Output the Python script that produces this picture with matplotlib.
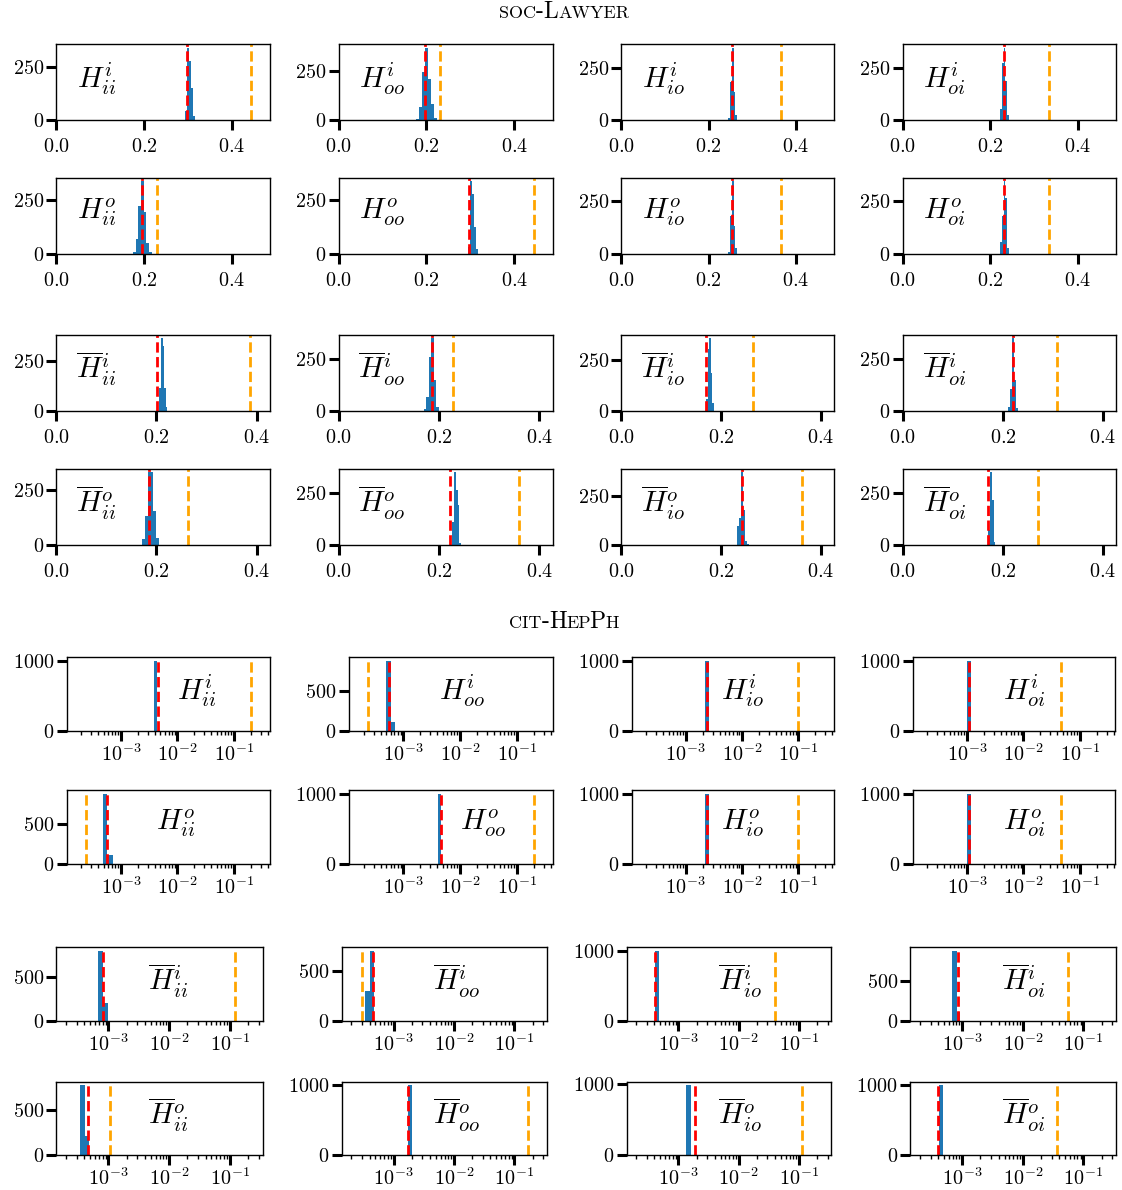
import numpy as np
import matplotlib
matplotlib.use("Agg")
import matplotlib.pyplot as plt
from matplotlib.ticker import MaxNLocator
from matplotlib.offsetbox import TextArea, HPacker, AnchoredOffsetbox

plt.rcParams['font.family'] = 'cmr10'
plt.rcParams['mathtext.fontset'] = 'cm'
plt.rcParams['axes.formatter.use_mathtext'] = True
plt.rcParams['axes.linewidth'] = 1.0
plt.rcParams['font.size'] = 14.5

# === DATA ===
plain_labels = [r"$H^{i}_{ii}$", r"$H^{i}_{oo}$", r"$H^{i}_{io}$", r"$H^{i}_{oi}$",
                r"$H^{o}_{ii}$", r"$H^{o}_{oo}$", r"$H^{o}_{io}$", r"$H^{o}_{oi}$"]
bar_labels = [r"$\overline{H}^{i}_{ii}$", r"$\overline{H}^{i}_{oo}$",
              r"$\overline{H}^{i}_{io}$", r"$\overline{H}^{i}_{oi}$",
              r"$\overline{H}^{o}_{ii}$", r"$\overline{H}^{o}_{oo}$",
              r"$\overline{H}^{o}_{io}$", r"$\overline{H}^{o}_{oi}$"]

# soc-Lawyer: histogram range (lo, hi) and counts per panel, rows 1-4
lawyer_lo = [0.2945, 0.1755, 0.2448, 0.2216,
             0.1748, 0.2955, 0.2448, 0.2216,
             0.2058, 0.1692, 0.1703, 0.2106,
             0.1714, 0.2264, 0.2321, 0.1705]
lawyer_hi = [0.3170, 0.2229, 0.2653, 0.2430,
             0.2181, 0.3183, 0.2653, 0.2430,
             0.2218, 0.1992, 0.1853, 0.2291,
             0.2050, 0.2442, 0.2566, 0.1848]
lawyer_counts = [[45, 340, 280, 150, 20], [8, 70, 245, 370, 212, 82, 10],
                 [9, 181, 345, 134, 25], [56, 271, 345, 189, 25],
                 [9, 68, 222, 335, 195, 48, 9], [33, 338, 281, 126, 20],
                 [9, 180, 345, 134, 25], [56, 180, 345, 265, 25],
                 [113, 362, 322, 113, 18], [11, 66, 260, 348, 150, 18],
                 [60, 299, 353, 185, 38], [18, 105, 350, 150, 13],
                 [26, 132, 330, 330, 156, 33], [110, 350, 265, 195, 10],
                 [96, 140, 371, 178, 21, 7], [70, 347, 213, 15]]
lawyer_red = [0.2988, 0.1959, 0.2538, 0.2315,
              0.1959, 0.2978, 0.2538, 0.2315,
              0.2014, 0.1870, 0.1705, 0.2199,
              0.1858, 0.2228, 0.2415, 0.1711]
lawyer_orange = [0.4434, 0.2309, 0.3646, 0.3333,
                 0.2302, 0.4441, 0.3646, 0.3333,
                 0.3872, 0.2278, 0.2630, 0.3079,
                 0.2636, 0.3586, 0.3619, 0.2708]

# cit-HepPh: bin edges and counts per panel, rows 1-4
hepph_edges = [[3.93e-3, 4.43e-3], [5.03e-4, 6.0e-4, 7.15e-4],
               [2.2e-3, 2.58e-3], [1.01e-3, 1.17e-3],
               [4.82e-4, 5.74e-4, 7.26e-4], [4.06e-3, 4.56e-3],
               [2.2e-3, 2.58e-3], [1.01e-3, 1.17e-3],
               [6.83e-4, 8.15e-4, 9.86e-4], [3.41e-4, 4.02e-4, 4.73e-4],
               [4.02e-4, 4.8e-4], [6.74e-4, 8.04e-4, 9.22e-4],
               [2.82e-4, 3.46e-4, 4.13e-4, 4.73e-4], [1.73e-3, 2.03e-3],
               [1.35e-3, 1.63e-3], [4.07e-4, 4.73e-4]]
hepph_counts = [[1000], [888, 112], [1000], [1000],
                [885, 115], [1000], [1000], [1000],
                [795, 205], [300, 700], [1000], [885, 115],
                [6, 776, 218], [1000], [990], [995]]
hepph_red = [4.63e-3, 5.74e-4, 2.37e-3, 1.09e-3,
             5.74e-4, 4.56e-3, 2.37e-3, 1.09e-3,
             8.15e-4, 4.54e-4, 4.07e-4, 8.61e-4,
             4.54e-4, 1.73e-3, 1.85e-3, 3.96e-4]
hepph_orange = [0.199, 2.39e-4, 0.100, 0.047,
                2.39e-4, 0.199, 0.100, 0.047,
                0.121, 2.98e-4, 0.0401, 0.0548,
                1.08e-3, 0.1675, 0.1127, 0.0364]

# === LAYOUT (pixels) ===
W, H = 1122, 1190
blocks = [
    # col lefts, col rights, row (top, bottom)
    ([56.4, 338.6, 621.4, 902.9], [269.6, 552.5, 834, 1116], [(44.3, 120.3), (177.7, 253.7)]),
    ([56.4, 338.6, 621.4, 902.9], [269.6, 552.5, 834, 1116], [(334.7, 411), (468.7, 545)]),
    ([66.8, 349, 631.8, 912.9], [269.6, 552.5, 834, 1115.4], [(657, 731), (790, 864.3)]),
    ([56.4, 341.8, 626.8, 910.4], [262.5, 547.1, 831.4, 1116], [(947.3, 1020.7), (1081.7, 1155.3)]),
]
block_xlim = [(0, 0.487), (0, 0.426), (10 ** -3.955, 10 ** -0.367), (10 ** -3.857, 10 ** -0.46)]
hepph_label_x = [0.542, 0.444, 0.442, 0.445, 0.442, 0.545, 0.442, 0.445] + [0.445] * 8

fig = plt.figure(figsize=(W / 100, H / 100), dpi=100)


def style(ax, log=False):
    ax.tick_params(which='major', length=7, width=2.2)
    ax.tick_params(which='minor', length=3, width=1.0)
    ax.tick_params(axis='y', pad=2)
    ax.tick_params(axis='x', pad=2 if log else 6)
    ax.yaxis.set_major_locator(MaxNLocator(nbins=2, steps=[1, 2.5, 5, 10]))


for b, (lefts, rights, rows) in enumerate(blocks):
    for r, (top, bottom) in enumerate(rows):
        for c in range(4):
            k = (b % 2) * 8 + r * 4 + c
            ax = fig.add_axes([lefts[c] / W, 1 - bottom / H,
                               (rights[c] - lefts[c]) / W, (bottom - top) / H])
            lab = (plain_labels if b % 2 == 0 else bar_labels)[r * 4 + c]
            if b < 2:
                edges = np.linspace(lawyer_lo[k], lawyer_hi[k], len(lawyer_counts[k]) + 1)
                ax.hist(edges[:-1], bins=edges, weights=lawyer_counts[k], color='tab:blue')
                ax.axvline(lawyer_red[k], color='red', ls='--', lw=2)
                ax.axvline(lawyer_orange[k], color='orange', ls='--', lw=2)
                ax.xaxis.set_major_locator(MaxNLocator(nbins=3, steps=[1, 2, 2.5, 5, 10]))
                lx = 0.096 if b == 0 else 0.092
            else:
                edges = hepph_edges[k]
                ax.hist(edges[:-1], bins=edges, weights=hepph_counts[k], color='tab:blue')
                ax.axvline(hepph_red[k], color='red', ls='--', lw=2)
                ax.axvline(hepph_orange[k], color='orange', ls='--', lw=2)
                ax.set_xscale('log')
                lx = hepph_label_x[k]
            ax.set_xlim(*block_xlim[b])
            style(ax, log=(b >= 2))
            ax.text(lx, 0.55, lab, transform=ax.transAxes, ha='left', va='center', fontsize=21)


def small_caps_title(groups, y):
    # groups of (text, size) pieces; pieces inside a group are packed tighter
    packs = []
    for grp, sep in groups:
        boxes = [TextArea(t, textprops=dict(fontsize=s, family='cmr10')) for t, s in grp]
        packs.append(HPacker(children=boxes, align='baseline', pad=0, sep=sep))
    pack = HPacker(children=packs, align='baseline', pad=0, sep=0)
    anch = AnchoredOffsetbox(loc='center', child=pack, pad=0, borderpad=0, frameon=False,
                             bbox_to_anchor=(564 / W, y), bbox_transform=fig.transFigure)
    fig.add_artist(anch)


big, small = 17, 13
small_caps_title([([("SOC", small), ("-", big), ("L", big), ("AWYER", small)], 0)], 1 - 12 / H)
small_caps_title([([("CIT", small), ("-", big), ("H", big)], 0),
                  ([("EP", small), ("P", big)], -1.5),
                  ([("H", small)], 0)], 1 - 622 / H)

fig.savefig("out.png", dpi=100)
